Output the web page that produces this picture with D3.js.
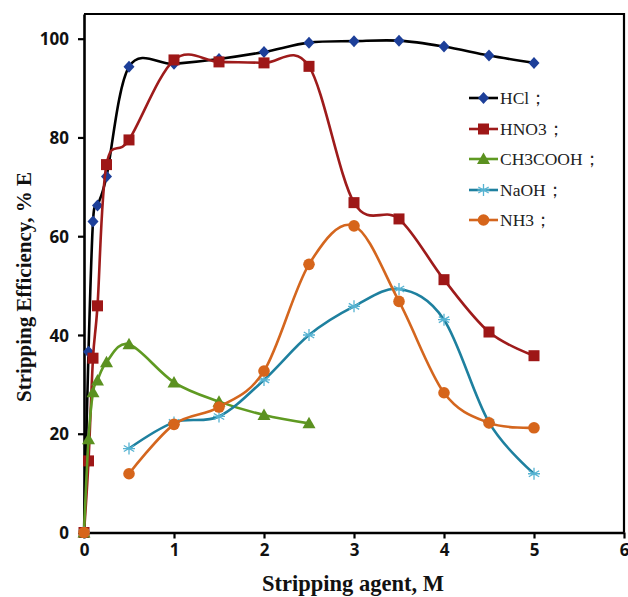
<!DOCTYPE html>
<html>
<head>
<meta charset="utf-8">
<script src="https://cdn.jsdelivr.net/npm/d3@7"></script>
<style>
  html, body { margin: 0; padding: 0; background: #fff; }
  svg { display: block; }
</style>
</head>
<body>
<svg id="chart" width="628" height="597"></svg>
<script>
// --- data ---
const xAcid = [0, 0.05, 0.1, 0.15, 0.25, 0.5, 1, 1.5, 2, 2.5, 3, 3.5, 4, 4.5, 5];
const hclValues = [0, 36.6, 63, 66.2, 72.1, 94.3, 94.9, 95.9, 97.3, 99.2, 99.5, 99.6, 98.4, 96.6, 95.1];
const hno3Values = [0, 14.5, 35.3, 45.9, 74.5, 79.5, 95.7, 95.3, 95.1, 94.4, 66.8, 63.5, 51.2, 40.6, 35.8];
const xAcetic = [0, 0.05, 0.1, 0.15, 0.25, 0.5, 1, 1.5, 2, 2.5];
const ch3coohValues = [0, 18.9, 28.4, 30.8, 34.5, 38.1, 30.4, 26.5, 23.8, 22.1];
const xBase = [0, 0.5, 1, 1.5, 2, 2.5, 3, 3.5, 4, 4.5, 5];
const naohValues = [0, 17, 22.3, 23.5, 30.9, 40, 45.8, 49.3, 43.1, 22.3, 11.9];
const nh3Values = [0, 11.9, 21.9, 25.4, 32.7, 54.3, 62.1, 46.8, 28.3, 22.2, 21.2];

const seriesNames = ["HCl；", "HNO3；", "CH3COOH；", "NaOH；", "NH3；"];
const xTicks = [0, 1, 2, 3, 4, 5, 6];
const yTicks = [0, 20, 40, 60, 80, 100];

// styles per series (line colour, marker colour, marker shape, join origin to curve?)
const styles = [
    { line: "#000000", mark: "#1d3f99", shape: "diamond", joinOrigin: true },
    { line: "#9e1b1b", mark: "#9e1717", shape: "square", joinOrigin: true },
    { line: "#5f9a22", mark: "#5b9120", shape: "triangle", joinOrigin: true },
    { line: "#1e809f", mark: "#56b3d2", shape: "star", joinOrigin: false },
    { line: "#d4661e", mark: "#d6651b", shape: "circle", joinOrigin: false }
];

const series = [
    { xs: xAcid, ys: hclValues },
    { xs: xAcid, ys: hno3Values },
    { xs: xAcetic, ys: ch3coohValues },
    { xs: xBase, ys: naohValues },
    { xs: xBase, ys: nh3Values }
].map((s, i) => ({ name: seriesNames[i], style: styles[i], points: s.xs.map((x, j) => ({ x, y: s.ys[j] })) }));

const svg = d3.select("#chart");
const plotLeft = 84, plotRight = 624, plotTop = 14, plotBottom = 532.5;

const x = d3.scaleLinear().domain([0, 6]).range([plotLeft, plotRight]);
const y = d3.scaleLinear().domain([0, 105]).range([plotBottom, plotTop]);

// frame (top + right edges)
svg.append("path")
    .attr("d", `M${plotLeft},${plotTop}H${plotRight}V${plotBottom}`)
    .attr("fill", "none")
    .attr("stroke", "#000")
    .attr("stroke-width", 2.2);

// axes
const tickFont = "'Open Sans', 'Liberation Sans', sans-serif";
const xAxis = svg.append("g")
    .attr("transform", `translate(0,${plotBottom})`)
    .call(d3.axisBottom(x).tickValues(xTicks).tickSize(6).tickSizeOuter(0).tickPadding(5).tickFormat(d3.format("d")));
const yAxis = svg.append("g")
    .attr("transform", `translate(${plotLeft},0)`)
    .call(d3.axisLeft(y).tickValues(yTicks).tickSize(6).tickSizeOuter(0).tickPadding(9).tickFormat(d3.format("d")));

[xAxis, yAxis].forEach(g => {
    g.select(".domain").attr("stroke", "#000").attr("stroke-width", 2.6);
    g.selectAll(".tick line").attr("stroke", "#000").attr("stroke-width", 2.2);
    g.selectAll(".tick text")
        .attr("fill", "#111")
        .style("font-family", tickFont)
        .style("font-weight", "700")
        .style("font-size", "17px");
});
yAxis.selectAll(".tick text").attr("dy", "0.36em");

// axis titles
const titleFont = "'Liberation Serif', 'Times New Roman', serif";
svg.append("text")
    .attr("x", 353)
    .attr("y", 591)
    .attr("text-anchor", "middle")
    .style("font-family", titleFont)
    .style("font-weight", "700")
    .style("font-size", "22.5px")
    .attr("fill", "#111")
    .text("Stripping agent, M");

svg.append("text")
    .attr("transform", `translate(31,287) rotate(-90)`)
    .attr("text-anchor", "middle")
    .style("font-family", titleFont)
    .style("font-weight", "700")
    .style("font-size", "21px")
    .attr("fill", "#111")
    .text("Stripping Efficiency, % E");

// markers
function drawMarker(g, shape, color, cx, cy) {
    if (shape === "diamond") {
        g.append("path").attr("d", `M${cx},${cy - 6}L${cx + 5.5},${cy}L${cx},${cy + 6}L${cx - 5.5},${cy}Z`).attr("fill", color);
    } else if (shape === "square") {
        g.append("rect").attr("x", cx - 5.5).attr("y", cy - 5.5).attr("width", 11).attr("height", 11).attr("fill", color);
    } else if (shape === "triangle") {
        g.append("path").attr("d", `M${cx},${cy - 6.5}L${cx + 6.5},${cy + 5}L${cx - 6.5},${cy + 5}Z`).attr("fill", color);
    } else if (shape === "circle") {
        g.append("circle").attr("cx", cx).attr("cy", cy).attr("r", 5.8).attr("fill", color);
    } else if (shape === "star") {
        const r = 6;
        const d = [0, 60, 120].map(a => {
            const t = (a + 90) * Math.PI / 180;
            return `M${cx - r * Math.cos(t)},${cy - r * Math.sin(t)}L${cx + r * Math.cos(t)},${cy + r * Math.sin(t)}`;
        }).join("") + `M${cx - r},${cy}L${cx + r},${cy}`;
        g.append("path").attr("d", d).attr("stroke", color).attr("stroke-width", 1.3).attr("fill", "none");
    }
}

const line = d3.line()
    .x(d => x(d.x))
    .y(d => y(d.y))
    .curve(d3.curveCardinal.tension(0));

const plot = svg.append("g");
series.forEach(s => {
    const pts = s.style.joinOrigin ? s.points : s.points.slice(1);
    plot.append("path")
        .attr("d", line(pts))
        .attr("fill", "none")
        .attr("stroke", s.style.line)
        .attr("stroke-width", 2.6);
    const mg = plot.append("g");
    s.points.forEach(p => drawMarker(mg, s.style.shape, s.style.mark, x(p.x), y(p.y)));
});

// legend
const legendRows = [98, 129, 159, 190, 220];
const legend = svg.append("g");
series.forEach((s, i) => {
    const ly = legendRows[i];
    legend.append("line")
        .attr("x1", 469).attr("x2", 498)
        .attr("y1", ly).attr("y2", ly)
        .attr("stroke", s.style.line)
        .attr("stroke-width", 2.6);
    drawMarker(legend, s.style.shape, s.style.mark, 483.5, ly);
    legend.append("text")
        .attr("x", 500)
        .attr("y", ly + 6)
        .style("font-family", titleFont)
        .style("font-size", "17.5px")
        .attr("fill", "#222")
        .text(s.name);
});
</script>
</body>
</html>
